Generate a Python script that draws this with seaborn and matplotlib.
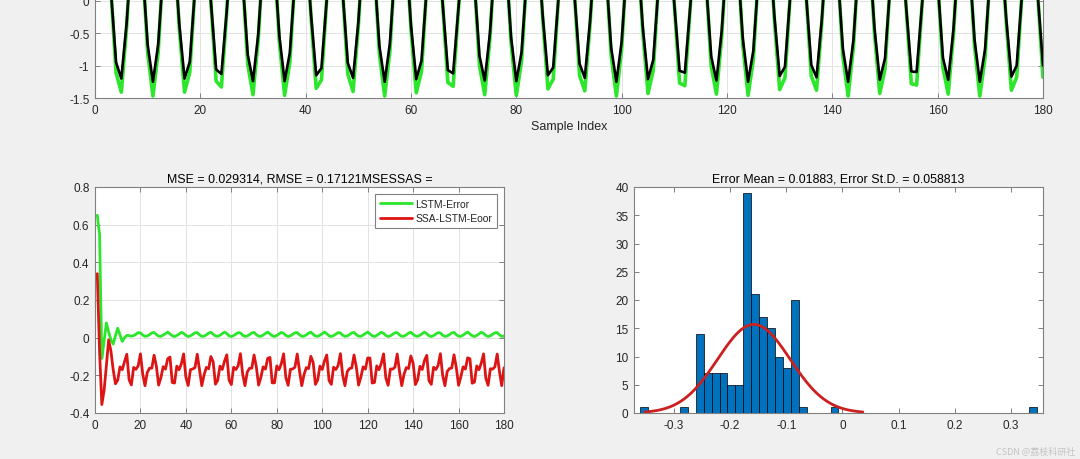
import numpy as np
import pandas as pd
import seaborn as sns
import matplotlib.pyplot as plt
from matplotlib.ticker import FuncFormatter

# ---- top panel: two predicted curves (black drawn over green) ----
top_black = [
    1.05, 1.14, 0.18, -0.95, -1.20, -0.35,
    0.82, 1.24, 0.52, -0.68, -1.25, -0.67,
    0.53, 1.24, 0.81, -0.36, -1.20, -0.94,
    0.19, 1.14, 1.05, -0.01, -1.06, -1.13, -0.17,
    0.95, 1.20, 0.34, -0.83, -1.24, -0.51,
    0.69, 1.25, 0.66, -0.54, -1.24, -0.80,
    0.37, 1.21, 0.93, -0.20, -1.15, -1.04,
    0.02, 1.06, 1.13, 0.16, -0.96, -1.19, -0.33,
    0.84, 1.23, 0.50, -0.70, -1.25, -0.65,
    0.55, 1.24, 0.80, -0.38, -1.21, -0.92,
    0.21, 1.15, 1.03, -0.03, -1.07, -1.12, -0.14,
    0.97, 1.19, 0.32, -0.85, -1.23, -0.49,
    0.71, 1.25, 0.64, -0.56, -1.24, -0.79,
    0.39, 1.21, 0.92, -0.22, -1.15, -1.03,
    0.04, 1.08, 1.12, 0.13, -0.97, -1.19, -0.31,
    0.85, 1.23, 0.48, -0.72, -1.25, -0.63,
    0.57, 1.24, 0.78, -0.40, -1.21, -0.91,
    0.23, 1.16, 1.02, -0.06, -1.08, -1.11, -0.12,
    0.98, 1.18, 0.30, -0.86, -1.23, -0.46,
    0.73, 1.25, 0.62, -0.58, -1.25, -0.77,
    0.41, 1.22, 0.90, -0.24, -1.16, -1.02,
    0.07, 1.09, 1.11, 0.11, -0.99, -1.18, -0.29,
    0.87, 1.23, 0.45, -0.74, -1.25, -0.61,
    0.59, 1.25, 0.76, -0.42, -1.22, -0.89,
    0.25, 1.17, 1.01, -0.08, -1.09, -1.10, -0.10,
    1.00, 1.18, 0.28, -0.88, -1.22, -0.44,
    0.74, 1.25, 0.60, -0.60, -1.25, -0.75,
    0.43, 1.22, 0.89, -0.26, -1.17, -1.00,
    0.09, 1.10, 1.10, 0.09, -1.00,
]
top_green = [
    1.24, 1.34, 0.21, -1.11, -1.41, -0.41,
    0.97, 1.46, 0.61, -0.80, -1.47, -0.79,
    0.62, 1.46, 0.96, -0.42, -1.41, -1.10,
    0.22, 1.34, 1.23, -0.01, -1.24, -1.33, -0.19,
    1.12, 1.41, 0.40, -0.98, -1.45, -0.59,
    0.81, 1.47, 0.78, -0.63, -1.46, -0.95,
    0.44, 1.42, 1.10, -0.23, -1.35, -1.22,
    0.03, 1.25, 1.33, 0.18, -1.13, -1.40, -0.39,
    0.98, 1.45, 0.58, -0.82, -1.47, -0.77,
    0.64, 1.46, 0.94, -0.45, -1.42, -1.09,
    0.25, 1.35, 1.22, -0.04, -1.26, -1.32, -0.17,
    1.14, 1.40, 0.37, -1.00, -1.45, -0.57,
    0.83, 1.47, 0.76, -0.65, -1.46, -0.93,
    0.46, 1.42, 1.08, -0.26, -1.36, -1.21,
    0.05, 1.26, 1.31, 0.16, -1.15, -1.39, -0.36,
    1.00, 1.45, 0.56, -0.84, -1.47, -0.74,
    0.66, 1.46, 0.92, -0.47, -1.43, -1.07,
    0.27, 1.36, 1.20, -0.06, -1.27, -1.31, -0.14,
    1.15, 1.39, 0.35, -1.01, -1.44, -0.55,
    0.85, 1.47, 0.73, -0.68, -1.46, -0.91,
    0.49, 1.43, 1.06, -0.29, -1.37, -1.19,
    0.08, 1.28, 1.30, 0.13, -1.16, -1.38, -0.34,
    1.02, 1.44, 0.53, -0.86, -1.47, -0.72,
    0.69, 1.47, 0.90, -0.50, -1.43, -1.05,
    0.30, 1.37, 1.18, -0.09, -1.28, -1.30, -0.12,
    1.17, 1.38, 0.32, -1.03, -1.44, -0.52,
    0.87, 1.47, 0.71, -0.70, -1.47, -0.88,
    0.51, 1.44, 1.04, -0.31, -1.38, -1.18,
    0.10, 1.29, 1.29, 0.10, -1.18,
]

# ---- bottom left: prediction errors ----
lstm_err = [
    0.65, 0.55, -0.11, -0.02, 0.078, 0.03, -0.01, -0.034, 0.01, 0.05, 0.015, -0.02,
    0.0, 0.012, 0.011, 0.008, 0.011, 0.018,
    0.027, 0.025, 0.014, 0.007, 0.009, 0.016, 0.025,
    0.028, 0.017, 0.008, 0.007, 0.014, 0.021,
    0.030, 0.020, 0.010, 0.006, 0.012, 0.019,
    0.028, 0.023, 0.012, 0.006, 0.010, 0.017,
    0.026, 0.027, 0.015, 0.007, 0.008, 0.015, 0.024,
    0.029, 0.018, 0.009, 0.007, 0.013, 0.021,
    0.030, 0.022, 0.010, 0.006, 0.011, 0.019,
    0.027, 0.025, 0.013, 0.007, 0.009, 0.016, 0.025,
    0.028, 0.016, 0.008, 0.007, 0.014, 0.022,
    0.030, 0.020, 0.010, 0.006, 0.012, 0.020,
    0.028, 0.023, 0.012, 0.006, 0.010, 0.018,
    0.026, 0.027, 0.015, 0.007, 0.008, 0.015, 0.024,
    0.029, 0.018, 0.009, 0.007, 0.013, 0.021,
    0.030, 0.021, 0.010, 0.006, 0.011, 0.019,
    0.027, 0.025, 0.013, 0.007, 0.009, 0.016, 0.025,
    0.028, 0.016, 0.008, 0.007, 0.014, 0.022,
    0.030, 0.020, 0.010, 0.006, 0.012, 0.020,
    0.029, 0.023, 0.012, 0.006, 0.010, 0.018,
    0.026, 0.027, 0.015, 0.007, 0.008, 0.015, 0.024,
    0.029, 0.018, 0.009, 0.007, 0.013, 0.021,
    0.030, 0.021, 0.010, 0.006, 0.011, 0.019,
    0.027, 0.025, 0.013, 0.007, 0.009, 0.016, 0.025,
    0.028, 0.016, 0.008, 0.007, 0.014, 0.022,
    0.030, 0.020, 0.010, 0.006, 0.012, 0.020,
    0.029, 0.023, 0.012, 0.006, 0.010, 0.018,
    0.026, 0.027, 0.015, 0.007, 0.008,
]
ssa_err = [
    0.34, -0.07, -0.355, -0.28, -0.15, -0.012, -0.07, -0.17, -0.245, -0.225, -0.155, -0.17,
    -0.127, -0.088, -0.223, -0.251, -0.158, -0.168,
    -0.150, -0.086, -0.193, -0.255, -0.185, -0.162, -0.162,
    -0.093, -0.151, -0.252, -0.213, -0.154, -0.167,
    -0.112, -0.103, -0.238, -0.241, -0.151, -0.170,
    -0.139, -0.086, -0.210, -0.254, -0.170, -0.166,
    -0.159, -0.088, -0.173, -0.255, -0.198, -0.158, -0.165,
    -0.100, -0.128, -0.247, -0.227, -0.151, -0.169,
    -0.125, -0.091, -0.225, -0.249, -0.157, -0.169,
    -0.149, -0.085, -0.195, -0.255, -0.183, -0.163, -0.162,
    -0.092, -0.155, -0.252, -0.211, -0.155, -0.167,
    -0.110, -0.105, -0.240, -0.240, -0.150, -0.170,
    -0.138, -0.086, -0.212, -0.253, -0.168, -0.166,
    -0.157, -0.087, -0.176, -0.255, -0.196, -0.159, -0.164,
    -0.099, -0.131, -0.248, -0.225, -0.151, -0.169,
    -0.123, -0.092, -0.227, -0.248, -0.157, -0.169,
    -0.148, -0.085, -0.199, -0.255, -0.181, -0.164, -0.161,
    -0.092, -0.155, -0.252, -0.210, -0.155, -0.167,
    -0.108, -0.108, -0.241, -0.238, -0.150, -0.170,
    -0.136, -0.086, -0.214, -0.253, -0.166, -0.167,
    -0.157, -0.087, -0.178, -0.255, -0.195, -0.159, -0.164,
    -0.097, -0.135, -0.249, -0.223, -0.152, -0.169,
    -0.121, -0.094, -0.229, -0.248, -0.157, -0.169,
    -0.147, -0.085, -0.200, -0.255, -0.180, -0.164, -0.161,
    -0.091, -0.158, -0.253, -0.208, -0.155, -0.167,
    -0.107, -0.112, -0.242, -0.236, -0.150, -0.170,
    -0.135, -0.086, -0.215, -0.253, -0.165, -0.167,
    -0.155, -0.087, -0.180, -0.255, -0.160,
]

# ---- bottom right: error histogram (50 bins) ----
hist_lo, hist_hi = -0.3599, 0.3457
hist_counts = [1, 0, 0, 0, 0, 1, 0, 14, 7, 7,
               7, 5, 5, 39, 21, 17, 15, 10, 8, 20,
               1, 0, 0, 0, 1, 0, 0, 0, 0, 0,
               0, 0, 0, 0, 0, 0, 0, 0, 0, 0,
               0, 0, 0, 0, 0, 0, 0, 0, 0, 1]

top_title = 'MSE = 0.029314, RMSE = 0.17121MSESSAS ='
hist_title = 'Error Mean = 0.01883, Error St.D. = 0.058813'

sample_idx = np.arange(1, len(top_black) + 1)

sns.set_theme(style='white')
plt.rcParams['font.family'] = ['Liberation Sans', 'DejaVu Sans']

AX_COL = '#808080'
TXT_COL = '#262626'
GRID_COL = '#e3e3e3'
fmt = FuncFormatter(lambda v, p: '0' if abs(v) < 1e-9 else f'{v:g}')


def matlab_axes(ax, grid=True):
    ax.set_facecolor('white')
    for sp in ax.spines.values():
        sp.set_visible(True)
        sp.set_color(AX_COL)
        sp.set_linewidth(0.8)
    ax.tick_params(direction='in', length=3.5, width=0.7, color=AX_COL,
                   top=True, right=True, bottom=True, left=True,
                   labelsize=8.5, labelcolor=TXT_COL, pad=4)
    ax.xaxis.set_major_formatter(fmt)
    ax.yaxis.set_major_formatter(fmt)
    if grid:
        ax.grid(True, color=GRID_COL, linewidth=0.7)
        ax.set_axisbelow(True)


fig = plt.figure(figsize=(10.8, 4.6), dpi=100, facecolor='#f0f0f0')
W, H = 1080, 460


def px_axes(left, top, right, bottom):
    return fig.add_axes([left / W, (H - bottom) / H, (right - left) / W, (bottom - top) / H])


# top panel (its upper part is cut off by the figure edge)
ax_top = px_axes(95, 99 - 194.4, 1043, 99)
sns.lineplot(x=sample_idx, y=top_green, ax=ax_top, color='#2ce62c', lw=2.6)
sns.lineplot(x=sample_idx, y=top_black, ax=ax_top, color='black', lw=1.9)
ax_top.set_xlim(0, 180)
ax_top.set_ylim(-1.5, 1.5)
ax_top.set_xticks(range(0, 181, 20))
ax_top.set_yticks([-1.5, -1, -0.5, 0])
matlab_axes(ax_top)
ax_top.set_xlabel('Sample Index', fontsize=9, color=TXT_COL, labelpad=3)
ax_top.set_ylabel('')

# bottom left: error curves
ax_err = px_axes(95, 188, 504, 414)
sns.lineplot(x=sample_idx, y=lstm_err, ax=ax_err, color='#2ce62c', lw=2.0, label='LSTM-Error')
sns.lineplot(x=sample_idx, y=ssa_err, ax=ax_err, color='#dd1414', lw=2.0, label='SSA-LSTM-Eoor')
ax_err.set_xlim(0, 180)
ax_err.set_ylim(-0.4, 0.8)
ax_err.set_xticks(range(0, 181, 20))
ax_err.set_yticks(np.arange(-0.4, 0.81, 0.2))
matlab_axes(ax_err)
ax_err.set_title(top_title, fontsize=8.9, color='black', pad=4)
leg = ax_err.legend(loc='upper right', fontsize=7.5, frameon=True, fancybox=False,
                    edgecolor=AX_COL, framealpha=1, handlelength=3.1, borderpad=0.45,
                    labelspacing=0.4, borderaxespad=0.7, handletextpad=0.3)
leg.get_frame().set_linewidth(0.8)

# bottom right: histogram with normal fit
ax_h = px_axes(634, 188, 1043, 414)
edges = np.linspace(hist_lo, hist_hi, len(hist_counts) + 1)
hist_df = pd.DataFrame({'center': (edges[:-1] + edges[1:]) / 2,
                        'count': np.array(hist_counts, dtype=float)})
sns.histplot(data=hist_df, x='center', weights='count', bins=list(edges), ax=ax_h,
             color='#0072BD', edgecolor='black', linewidth=0.5, alpha=1)
n_tot = hist_df['count'].sum()
bw = edges[1] - edges[0]
mu = (hist_df['center'] * hist_df['count']).sum() / n_tot
sd = np.sqrt((((hist_df['center'] - mu) ** 2) * hist_df['count']).sum() / (n_tot - 1))
xs = np.linspace(mu - 3 * sd, mu + 3 * sd, 200)
ys = n_tot * bw * np.exp(-0.5 * ((xs - mu) / sd) ** 2) / (sd * np.sqrt(2 * np.pi))
sns.lineplot(x=xs, y=ys, ax=ax_h, color='#cc2020', lw=2.0)
ax_h.set_xlim(-0.371, 0.357)
ax_h.set_ylim(0, 40)
ax_h.set_xticks([-0.3, -0.2, -0.1, 0, 0.1, 0.2, 0.3])
ax_h.set_yticks(range(0, 41, 5))
matlab_axes(ax_h, grid=False)
ax_h.set_xlabel('')
ax_h.set_ylabel('')
ax_h.set_title(hist_title, fontsize=8.9, color='black', pad=4)

fig.text(0.996, 0.006, 'CSDN @荔枝科研社', ha='right', va='bottom', fontsize=6.5,
         color='#c4c4c4', family=['Noto Sans CJK SC', 'DejaVu Sans'])

fig.savefig('out.png', dpi=100, facecolor=fig.get_facecolor())
